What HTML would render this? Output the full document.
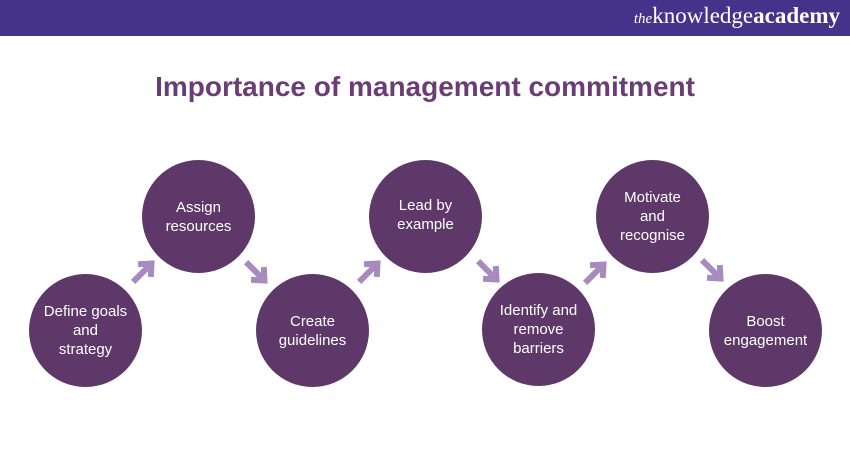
<!DOCTYPE html>
<html><head><style>
body{margin:0;width:850px;height:450px;background:#fff;position:relative;overflow:hidden;font-family:"Liberation Sans",sans-serif}
.bar{position:absolute;left:0;top:0;width:850px;height:36px;background:#44338a}
.logo{position:absolute;right:10px;top:3px;color:#fff;font-family:"Liberation Serif",serif;font-size:23px}
.logo i{font-size:15px}
.logo b{font-weight:bold}
h1{position:absolute;left:0;width:850px;top:71px;margin:0;text-align:center;font-size:28px;color:#6a3d74;font-weight:bold}
.c{position:absolute;width:113px;height:113px;border-radius:50%;background:#5e3868;color:#fff;font-size:15px;line-height:19px;display:flex;align-items:center;justify-content:center;text-align:center}
</style></head><body>
<div class="bar"><div class="logo"><i>the</i>knowledge<b>academy</b></div></div>
<h1>Importance of management commitment</h1>
<div class="c" style="left:29px;top:274px">Define goals<br>and<br>strategy</div>
<div class="c" style="left:142px;top:160px"><div style="margin-top:0px">Assign<br>resources</div></div>
<div class="c" style="left:256px;top:274px">Create<br>guidelines</div>
<div class="c" style="left:369px;top:160px"><div style="margin-top:-4px">Lead by<br>example</div></div>
<div class="c" style="left:482px;top:273px">Identify and<br>remove<br>barriers</div>
<div class="c" style="left:596px;top:160px"><div style="margin-top:0px">Motivate<br>and<br>recognise</div></div>
<div class="c" style="left:709px;top:274px">Boost<br>engagement</div>
<svg width="850" height="450" style="position:absolute;left:0;top:0">
<defs><g id="a"><path d="M-14 0 L11 0 M2 -9 L12 0 L2 9" stroke="#a88bbe" stroke-width="6" fill="none"/></g></defs>
<use href="#a" transform="translate(143,272) rotate(-45)"/>
<use href="#a" transform="translate(256,272) rotate(45)"/>
<use href="#a" transform="translate(369,272) rotate(-45)"/>
<use href="#a" transform="translate(488,271) rotate(45)"/>
<use href="#a" transform="translate(595,273) rotate(-45)"/>
<use href="#a" transform="translate(712,270) rotate(45)"/>
</svg>
</body></html>
